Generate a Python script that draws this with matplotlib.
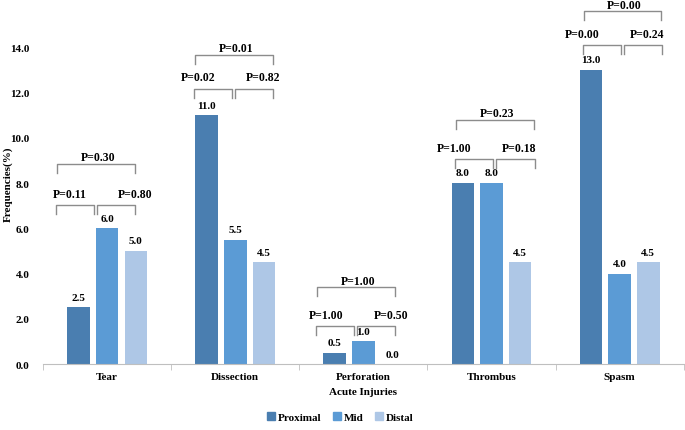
## Imports required libraries.
import numpy as np
import matplotlib.pyplot as plt
from matplotlib.patches import Patch


## Data.
categories = ['Tear', 'Dissection', 'Perforation', 'Thrombus', 'Spasm']
proximal   = [2.5, 11.0, 0.5, 8.0, 13.0]
mid        = [6.0,  5.5, 1.0, 8.0,  4.0]
distal     = [5.0,  4.5, 0.0, 4.5,  4.5]
series     = ['Proximal', 'Mid', 'Distal']

## P values: proximal vs mid, mid vs distal, proximal vs distal.
p_prox_mid  = ['P=0.11', 'P=0.02', 'P=1.00', 'P=1.00', 'P=0.00']
p_mid_dist  = ['P=0.80', 'P=0.82', 'P=0.50', 'P=0.18', 'P=0.24']
p_prox_dist = ['P=0.30', 'P=0.01', 'P=1.00', 'P=0.23', 'P=0.00']

## Bracket layout (heights in axis units, shifts in pixels).
low_level = [7.03, 12.17, 1.68, 9.07, 14.1]
top_level = [8.85, 13.67, 3.40, 10.8, 15.6]
shift_px  = [-9, 1, -5, 6, 5]

colors = ['#4a7eb0', '#5b9bd5', '#aec7e6']

plt.rcParams['font.family'] = ['Liberation Serif', 'DejaVu Serif']
plt.rcParams['font.weight'] = 'bold'

fig = plt.figure(figsize=(6.85, 4.31), dpi=100)
ax = fig.add_axes([0.063, 0.153, 0.935, 0.84])

x = np.arange(len(categories))
w = 0.176
step = 0.224
for k, vals in enumerate([proximal, mid, distal]):
    xs = x + (k - 1) * step
    ax.bar(xs, vals, width=w, color=colors[k], edgecolor='none', zorder=2)
    for xi, v in zip(xs, vals):
        ax.annotate(f'{v:.1f}', (xi, v), xytext=(0, 4), textcoords='offset points',
                    ha='center', va='bottom', fontsize=8, fontweight='bold')

## Brackets and P values.
px = 1 / 128.0
leg = 0.4
gray = '#8c8c8c'
for i in range(len(categories)):
    c = x[i] + shift_px[i] * px
    lo = low_level[i]
    top = top_level[i]
    for (a, b) in [(-42, -4), (-1, 37)]:
        ax.plot([c + a * px, c + a * px, c + b * px, c + b * px],
                [lo - leg, lo, lo, lo - leg], color=gray, lw=1, zorder=3)
    ax.plot([c - 41 * px, c - 41 * px, c + 36.5 * px, c + 36.5 * px],
            [top - leg, top, top, top - leg], color=gray, lw=1, zorder=3)
    ax.text(x[i] - 37 * px, lo + 0.5, p_prox_mid[i], ha='center', va='center', fontsize=8.5)
    ax.text(x[i] + 28 * px, lo + 0.5, p_mid_dist[i], ha='center', va='center', fontsize=8.5)
    ax.text(c, top + 0.28, p_prox_dist[i], ha='center', va='center', fontsize=8.5)

ax.set_xlim(-0.5, len(categories) - 0.5)
ax.set_ylim(0, 16)
ax.set_yticks(np.arange(0, 15, 2))
ax.set_yticklabels([f'{t:.1f}' for t in np.arange(0, 15, 2)], fontsize=8)
ax.tick_params(axis='y', length=0, pad=10)

ax.set_xticks(x)
ax.set_xticklabels(categories, fontsize=8)
ax.set_xticks(np.arange(-0.5, len(categories), 1), minor=True)
ax.tick_params(axis='x', which='major', length=0, pad=6)
ax.tick_params(axis='x', which='minor', length=4, color='#bfbfbf')

for s in ['left', 'right', 'top']:
    ax.spines[s].set_visible(False)
ax.spines['bottom'].set_color('#bfbfbf')

ax.set_xlabel('Acute Injuries', fontsize=8, fontweight='bold', labelpad=4)
ax.set_ylabel('Frequencies(%)', fontsize=8, fontweight='bold')
ax.yaxis.set_label_coords(-0.048, 0.5)

handles = [Patch(color=colors[k], label=series[k]) for k in range(3)]
fig.legend(handles=handles, loc='center', bbox_to_anchor=(0.497, 0.03), ncol=3,
           frameon=False, fontsize=8, handlelength=0.7, handleheight=0.7,
           handletextpad=0.3, columnspacing=1.0)

fig.savefig('out.png', dpi=100)
